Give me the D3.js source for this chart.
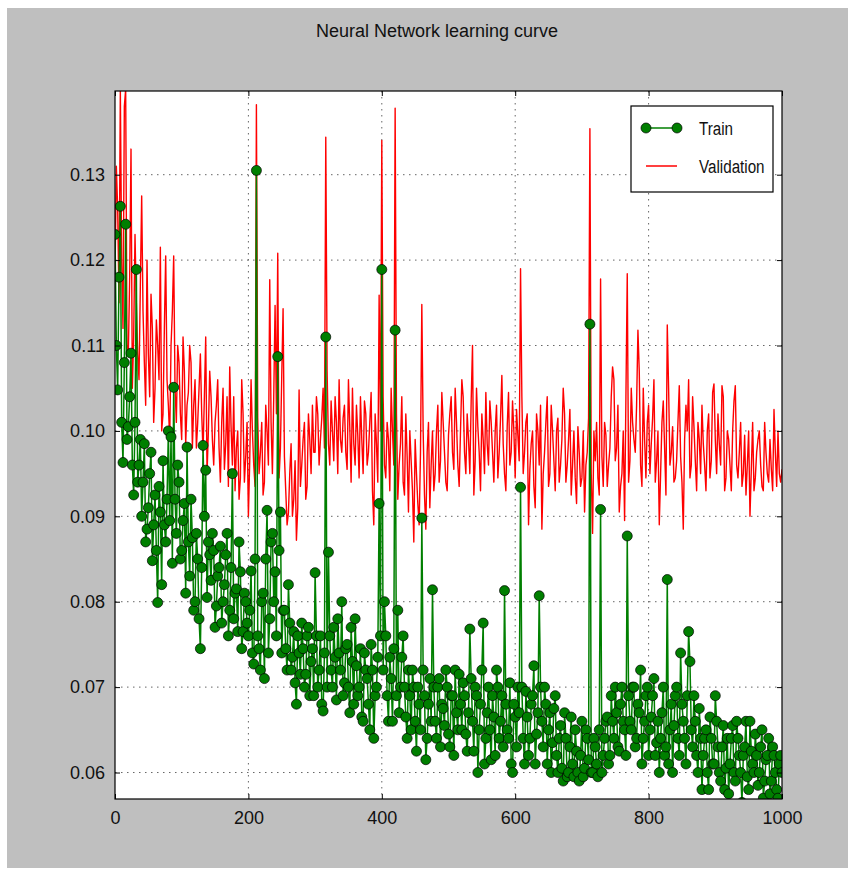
<!DOCTYPE html>
<html>
<head>
<meta charset="utf-8" />
<title>Neural Network learning curve</title>
<script src="https://d3js.org/d3.v7.min.js"></script>
<style>
  body { margin: 0; background: #fff; }
  text { font-family: "Liberation Sans", Arial, sans-serif; fill: #111; }
</style>
</head>
<body>
<svg id="viz"></svg>
<script>
// loss per recorded epoch (one value every 2 epochs, 0..1000)
var epochStep = 2;

var trainLoss = [
  0.1230, 0.1100, 0.1048, 0.1180, 0.1263, 0.1010, 0.0963, 0.1080, 0.1242, 0.0990, 0.1005, 0.1040, 0.1091, 0.0960, 0.0925, 0.1010, 0.1189, 0.0940, 0.0960, 0.0990,
  0.0900, 0.0940, 0.0985, 0.0870, 0.0885, 0.0910, 0.0950, 0.0975, 0.0848, 0.0890, 0.0925, 0.0860, 0.0799, 0.0935, 0.0905, 0.0820, 0.0965, 0.0890, 0.0870, 0.0920,
  0.1000, 0.0895, 0.0993, 0.0845, 0.1051, 0.0920, 0.0880, 0.0960, 0.0940, 0.0850, 0.0860, 0.0895, 0.0915, 0.0810, 0.0981, 0.0870, 0.0830, 0.0920, 0.0875, 0.0790,
  0.0800, 0.0880, 0.0850, 0.0780, 0.0745, 0.0840, 0.0983, 0.0900, 0.0954, 0.0805, 0.0870, 0.0855, 0.0825, 0.0880, 0.0860, 0.0770, 0.0795, 0.0830, 0.0840, 0.0865,
  0.0775, 0.0800, 0.0820, 0.0855, 0.0880, 0.0760, 0.0790, 0.0840, 0.0950, 0.0780, 0.0810, 0.0815, 0.0765, 0.0870, 0.0835, 0.0745, 0.0765, 0.0810, 0.0800, 0.0775,
  0.0760, 0.0790, 0.0836, 0.0740, 0.0727, 0.0850, 0.1305, 0.0760, 0.0745, 0.0720, 0.0800, 0.0810, 0.0710, 0.0850, 0.0907, 0.0740, 0.0780, 0.0870, 0.0880, 0.0800,
  0.0835, 0.0760, 0.1087, 0.0860, 0.0905, 0.0740, 0.0790, 0.0790, 0.0745, 0.0720, 0.0820, 0.0775, 0.0720, 0.0735, 0.0765, 0.0705, 0.0680, 0.0760, 0.0740, 0.0715,
  0.0775, 0.0745, 0.0700, 0.0715, 0.0760, 0.0770, 0.0690, 0.0730, 0.0745, 0.0690, 0.0834, 0.0760, 0.0700, 0.0720, 0.0760, 0.0680, 0.0672, 0.0740, 0.1110, 0.0700,
  0.0858, 0.0760, 0.0720, 0.0700, 0.0770, 0.0735, 0.0685, 0.0780, 0.0740, 0.0720, 0.0800, 0.0690, 0.0705, 0.0745, 0.0750, 0.0700, 0.0670, 0.0770, 0.0730, 0.0680,
  0.0780, 0.0725, 0.0690, 0.0700, 0.0745, 0.0665, 0.0660, 0.0740, 0.0720, 0.0710, 0.0680, 0.0650, 0.0750, 0.0720, 0.0640, 0.0690, 0.0700, 0.0735, 0.0915, 0.0760,
  0.1189, 0.0720, 0.0800, 0.0760, 0.0690, 0.0660, 0.0735, 0.0710, 0.0660, 0.0745, 0.1118, 0.0690, 0.0790, 0.0670, 0.0700, 0.0735, 0.0760, 0.0700, 0.0665, 0.0640,
  0.0720, 0.0690, 0.0650, 0.0720, 0.0700, 0.0660, 0.0625, 0.0700, 0.0680, 0.0650, 0.0898, 0.0720, 0.0690, 0.0615, 0.0640, 0.0680, 0.0710, 0.0660, 0.0814, 0.0700,
  0.0660, 0.0640, 0.0700, 0.0710, 0.0630, 0.0680, 0.0675, 0.0655, 0.0720, 0.0700, 0.0645, 0.0630, 0.0690, 0.0690, 0.0620, 0.0720, 0.0670, 0.0650, 0.0715, 0.0680,
  0.0650, 0.0705, 0.0690, 0.0645, 0.0625, 0.0670, 0.0768, 0.0710, 0.0660, 0.0625, 0.0700, 0.0690, 0.0600, 0.0650, 0.0680, 0.0720, 0.0775, 0.0610, 0.0640, 0.0670,
  0.0700, 0.0650, 0.0615, 0.0690, 0.0665, 0.0620, 0.0720, 0.0700, 0.0640, 0.0660, 0.0690, 0.0630, 0.0813, 0.0680, 0.0650, 0.0640, 0.0705, 0.0610, 0.0600, 0.0680,
  0.0665, 0.0630, 0.0700, 0.0670, 0.0934, 0.0700, 0.0640, 0.0610, 0.0695, 0.0665, 0.0620, 0.0640, 0.0680, 0.0690, 0.0725, 0.0610, 0.0645, 0.0670, 0.0807, 0.0700,
  0.0660, 0.0630, 0.0700, 0.0680, 0.0610, 0.0650, 0.0670, 0.0600, 0.0635, 0.0675, 0.0690, 0.0620, 0.0600, 0.0640, 0.0655, 0.0605, 0.0590, 0.0670, 0.0640, 0.0595,
  0.0600, 0.0630, 0.0665, 0.0610, 0.0595, 0.0650, 0.0625, 0.0600, 0.0590, 0.0620, 0.0660, 0.0595, 0.0605, 0.0650, 0.0640, 0.0615, 0.1125, 0.0600, 0.0600, 0.0640,
  0.0630, 0.0610, 0.0595, 0.0650, 0.0908, 0.0600, 0.0620, 0.0640, 0.0660, 0.0665, 0.0610, 0.0620, 0.0690, 0.0660, 0.0640, 0.0700, 0.0670, 0.0630, 0.0625, 0.0680,
  0.0700, 0.0660, 0.0650, 0.0620, 0.0877, 0.0690, 0.0660, 0.0650, 0.0700, 0.0700, 0.0630, 0.0640, 0.0680, 0.0670, 0.0720, 0.0610, 0.0640, 0.0660, 0.0690, 0.0700,
  0.0620, 0.0650, 0.0665, 0.0690, 0.0710, 0.0620, 0.0635, 0.0660, 0.0600, 0.0640, 0.0670, 0.0700, 0.0620, 0.0630, 0.0826, 0.0610, 0.0650, 0.0680, 0.0600, 0.0655,
  0.0690, 0.0700, 0.0640, 0.0620, 0.0740, 0.0680, 0.0660, 0.0640, 0.0610, 0.0690, 0.0765, 0.0730, 0.0650, 0.0630, 0.0690, 0.0660, 0.0620, 0.0600, 0.0675, 0.0640,
  0.0580, 0.0620, 0.0640, 0.0650, 0.0600, 0.0580, 0.0665, 0.0640, 0.0610, 0.0610, 0.0690, 0.0660, 0.0630, 0.0600, 0.0590, 0.0630, 0.0655, 0.0580, 0.0605, 0.0640,
  0.0575, 0.0610, 0.0640, 0.0655, 0.0600, 0.0590, 0.0660, 0.0640, 0.0620, 0.0600, 0.0565, 0.0620, 0.0630, 0.0660, 0.0595, 0.0580, 0.0660, 0.0625, 0.0610, 0.0600,
  0.0645, 0.0620, 0.0585, 0.0600, 0.0630, 0.0650, 0.0570, 0.0590, 0.0615, 0.0620, 0.0640, 0.0575, 0.0590, 0.0630, 0.0620, 0.0600, 0.0580, 0.0570, 0.0610, 0.0620,
  0.0600
];

var validLoss = [
  0.1180, 0.1310, 0.1260, 0.1150, 0.1400, 0.1200, 0.1120, 0.1380, 0.1400, 0.1100, 0.1090, 0.1180, 0.1330, 0.1050, 0.1110, 0.1230, 0.1150, 0.1090, 0.1060, 0.1170,
  0.1275, 0.1140, 0.1080, 0.1030, 0.1200, 0.1090, 0.1040, 0.1160, 0.1120, 0.1010, 0.1050, 0.1130, 0.1100, 0.1060, 0.1215, 0.1000, 0.1020, 0.1120, 0.1205, 0.1060,
  0.1030, 0.0990, 0.1100, 0.1140, 0.1205, 0.1050, 0.1010, 0.1100, 0.1080, 0.1020, 0.0990, 0.1110, 0.1070, 0.0985, 0.1030, 0.1045, 0.1100, 0.1080, 0.0980, 0.1030,
  0.1060, 0.0980, 0.1010, 0.1050, 0.1090, 0.1020, 0.0975, 0.1040, 0.1110, 0.0950, 0.1000, 0.1070, 0.1040, 0.0990, 0.0960, 0.1010, 0.1030, 0.1060, 0.0980, 0.0940,
  0.1010, 0.1050, 0.0955, 0.0985, 0.1040, 0.0935, 0.1075, 0.1005, 0.0960, 0.1040, 0.0930, 0.0980, 0.1000, 0.0920, 0.0945, 0.1060, 0.1020, 0.0940, 0.0970, 0.1010,
  0.0900, 0.0965, 0.1060, 0.1000, 0.0960, 0.0935, 0.1382, 0.1015, 0.0950, 0.0975, 0.1010, 0.0925, 0.0940, 0.1030, 0.1000, 0.0960, 0.1177, 0.1010, 0.0950, 0.1040,
  0.1147, 0.1020, 0.1208, 0.0945, 0.0980, 0.1065, 0.1143, 0.0970, 0.0930, 0.0890, 0.0904, 0.0950, 0.0985, 0.0900, 0.0920, 0.0965, 0.0872, 0.0910, 0.1048, 0.0935,
  0.0960, 0.0990, 0.1010, 0.0920, 0.0935, 0.1020, 0.0990, 0.0950, 0.1030, 0.0975, 0.0975, 0.1040, 0.1020, 0.0960, 0.0990, 0.1015, 0.1050, 0.0980, 0.1344, 0.1070,
  0.0985, 0.0960, 0.1035, 0.1000, 0.0965, 0.1040, 0.1010, 0.0950, 0.1060, 0.0990, 0.0975, 0.1015, 0.1030, 0.0975, 0.0955, 0.1060, 0.1005, 0.0940, 0.1050, 0.0985,
  0.0960, 0.1030, 0.0995, 0.0945, 0.1040, 0.0990, 0.0950, 0.1035, 0.1020, 0.0960, 0.0975, 0.1010, 0.1045, 0.0930, 0.0890, 0.1020, 0.0985, 0.0940, 0.1159, 0.1000,
  0.1340, 0.1040, 0.0960, 0.0945, 0.1010, 0.0990, 0.0930, 0.1050, 0.1000, 0.0960, 0.1378, 0.1020, 0.0920, 0.0960, 0.0985, 0.1040, 0.0940, 0.0925, 0.1020, 0.0970,
  0.0905, 0.1000, 0.0965, 0.0930, 0.0870, 0.0990, 0.0950, 0.0915, 0.0890, 0.0975, 0.1148, 0.1000, 0.0925, 0.0885, 0.0975, 0.1010, 0.0910, 0.0960, 0.1000, 0.0930,
  0.0950, 0.1000, 0.1030, 0.0940, 0.0965, 0.1045, 0.1010, 0.0975, 0.0940, 0.0930, 0.0995, 0.1020, 0.1040, 0.0975, 0.0955, 0.1050, 0.1010, 0.0960, 0.0935, 0.1000,
  0.1060, 0.1040, 0.0975, 0.0950, 0.1020, 0.0990, 0.0950, 0.1035, 0.1100, 0.0925, 0.0965, 0.1050, 0.1005, 0.0975, 0.0930, 0.1020, 0.0990, 0.0950, 0.1045, 0.0985,
  0.0960, 0.1035, 0.1010, 0.0975, 0.0940, 0.1000, 0.1030, 0.0945, 0.0975, 0.1015, 0.1065, 0.0985, 0.0950, 0.0930, 0.1005, 0.1045, 0.0960, 0.0975, 0.1035, 0.1000,
  0.0945, 0.1025, 0.0995, 0.0965, 0.1190, 0.1040, 0.0950, 0.0975, 0.1010, 0.1020, 0.0890, 0.0955, 0.0985, 0.1000, 0.0935, 0.0910, 0.1020, 0.1000, 0.0960, 0.1030,
  0.0885, 0.0950, 0.0975, 0.1010, 0.1040, 0.0935, 0.0950, 0.1030, 0.1000, 0.0965, 0.0930, 0.1000, 0.1015, 0.0940, 0.0960, 0.0990, 0.1050, 0.1020, 0.0940, 0.0960,
  0.0990, 0.1025, 0.0925, 0.0960, 0.1000, 0.0945, 0.0915, 0.1005, 0.0975, 0.0935, 0.0945, 0.1000, 0.0905, 0.0960, 0.0975, 0.1015, 0.1354, 0.0950, 0.0880, 0.1000,
  0.0965, 0.1010, 0.0945, 0.0925, 0.1178, 0.0970, 0.0935, 0.1010, 0.0995, 0.0935, 0.0960, 0.0980, 0.1040, 0.1075, 0.1060, 0.0965, 0.0980, 0.1030, 0.0905, 0.0935,
  0.0950, 0.1000, 0.0895, 0.1040, 0.1184, 0.0940, 0.0965, 0.1050, 0.1010, 0.0990, 0.0975, 0.1030, 0.1118, 0.1070, 0.0960, 0.0935, 0.1050, 0.0990, 0.0945, 0.1010,
  0.1030, 0.0950, 0.0985, 0.1015, 0.1060, 0.0940, 0.0965, 0.1000, 0.0890, 0.0950, 0.1010, 0.1035, 0.0980, 0.0925, 0.1124, 0.1050, 0.0960, 0.0975, 0.1005, 0.0940,
  0.0945, 0.0965, 0.1010, 0.1053, 0.0970, 0.0940, 0.0885, 0.0990, 0.1030, 0.1000, 0.1060, 0.0945, 0.0960, 0.1040, 0.1005, 0.0965, 0.0930, 0.1010, 0.0990, 0.0950,
  0.1030, 0.0985, 0.0960, 0.0930, 0.1000, 0.1020, 0.0945, 0.0965, 0.1045, 0.1055, 0.0990, 0.0950, 0.1020, 0.0985, 0.0960, 0.1053, 0.1040, 0.0930, 0.0945, 0.1000,
  0.0990, 0.0960, 0.0930, 0.1000, 0.1035, 0.1053, 0.0960, 0.0945, 0.0975, 0.1010, 0.0935, 0.0950, 0.0995, 0.0925, 0.0960, 0.1000, 0.0900, 0.0955, 0.1010, 0.0930,
  0.0945, 0.0975, 0.0990, 0.1000, 0.0960, 0.0935, 0.0930, 0.1010, 0.0975, 0.0950, 0.0940, 0.0990, 0.0955, 0.0930, 0.1025, 0.0975, 0.0935, 0.1000, 0.0950, 0.0940,
  0.0955
];

var xTicks = [0, 200, 400, 600, 800, 1000];
var yTicks = [0.06, 0.07, 0.08, 0.09, 0.10, 0.11, 0.12, 0.13];
var seriesNames = ["Train", "Validation"];
var seriesColors = ["#007f00", "#ff0000"];

var width = 854, height = 873;
var svg = d3.select("#viz").attr("width", width).attr("height", height);

// figure background
svg.append("rect")
  .attr("x", 7).attr("y", 8)
  .attr("width", 841).attr("height", 860)
  .attr("fill", "#bfbfbf");

var plot = { left: 115, top: 91, right: 782, bottom: 799 };

var x = d3.scaleLinear().domain([0, 1000]).range([plot.left, plot.right]);
var y = d3.scaleLinear().domain([0.0569, 0.1398]).range([plot.bottom, plot.top]);

svg.append("rect")
  .attr("x", plot.left).attr("y", plot.top)
  .attr("width", plot.right - plot.left).attr("height", plot.bottom - plot.top)
  .attr("fill", "#fff");

svg.append("clipPath").attr("id", "clip")
  .append("rect")
  .attr("x", plot.left).attr("y", plot.top)
  .attr("width", plot.right - plot.left).attr("height", plot.bottom - plot.top);

// dotted grid
var grid = svg.append("g").attr("stroke", "#666").attr("stroke-width", 1).attr("stroke-dasharray", "1.5,4.5");
grid.selectAll(".gx").data(xTicks.slice(1, -1)).enter().append("line")
  .attr("x1", d => x(d)).attr("x2", d => x(d))
  .attr("y1", plot.top).attr("y2", plot.bottom);
grid.selectAll(".gy").data(yTicks).enter().append("line")
  .attr("x1", plot.left).attr("x2", plot.right)
  .attr("y1", d => y(d)).attr("y2", d => y(d));

var trainData = trainLoss.map((v, i) => ({ epoch: i * epochStep, loss: v }));
var validData = validLoss.map((v, i) => ({ epoch: i * epochStep, loss: v }));

var line = d3.line().x(d => x(d.epoch)).y(d => y(d.loss));

var lines = svg.append("g").attr("clip-path", "url(#clip)");

lines.append("path")
  .datum(validData)
  .attr("d", line)
  .attr("fill", "none")
  .attr("stroke", seriesColors[1])
  .attr("stroke-width", 1.4)
  .attr("stroke-linejoin", "round");

lines.append("path")
  .datum(trainData)
  .attr("d", line)
  .attr("fill", "none")
  .attr("stroke", seriesColors[0])
  .attr("stroke-width", 1.5)
  .attr("stroke-linejoin", "round");

lines.selectAll("circle")
  .data(trainData)
  .enter().append("circle")
  .attr("cx", d => x(d.epoch))
  .attr("cy", d => y(d.loss))
  .attr("r", 5)
  .attr("fill", seriesColors[0])
  .attr("stroke", "#000")
  .attr("stroke-width", 0.7);

// axes, ticks pointing inward on every side
var fmtY = d3.format(".2f");
svg.append("g").attr("transform", "translate(0," + plot.bottom + ")")
  .call(d3.axisBottom(x).tickValues(xTicks).tickSizeInner(-5).tickSizeOuter(0).tickPadding(12).tickFormat(d3.format("d")))
  .call(g => g.select(".domain").remove());
svg.append("g").attr("transform", "translate(0," + plot.top + ")")
  .call(d3.axisTop(x).tickValues(xTicks).tickSizeInner(-5).tickSizeOuter(0).tickFormat(""))
  .call(g => g.select(".domain").remove());
svg.append("g").attr("transform", "translate(" + plot.left + ",0)")
  .call(d3.axisLeft(y).tickValues(yTicks).tickSizeInner(-5).tickSizeOuter(0).tickPadding(10).tickFormat(fmtY))
  .call(g => g.select(".domain").remove());
svg.append("g").attr("transform", "translate(" + plot.right + ",0)")
  .call(d3.axisRight(y).tickValues(yTicks).tickSizeInner(-5).tickSizeOuter(0).tickFormat(""))
  .call(g => g.select(".domain").remove());

svg.selectAll(".tick text")
  .attr("font-family", "'Liberation Sans', Arial, sans-serif")
  .attr("font-size", 18)
  .attr("fill", "#111");

// frame
svg.append("rect")
  .attr("x", plot.left).attr("y", plot.top)
  .attr("width", plot.right - plot.left).attr("height", plot.bottom - plot.top)
  .attr("fill", "none").attr("stroke", "#000").attr("stroke-width", 1.2);

// title
svg.append("text")
  .attr("x", 437).attr("y", 37)
  .attr("text-anchor", "middle")
  .attr("font-size", 18)
  .text("Neural Network learning curve");

// legend
var legend = svg.append("g").attr("transform", "translate(631,106)");
legend.append("rect")
  .attr("width", 142).attr("height", 86)
  .attr("fill", "#fff").attr("stroke", "#000").attr("stroke-width", 1.2);

var legItems = legend.selectAll(".item").data(seriesNames).enter().append("g")
  .attr("transform", (d, i) => "translate(0," + (22 + i * 38) + ")");
legItems.append("line")
  .attr("x1", 15).attr("x2", 46)
  .attr("stroke", (d, i) => seriesColors[i])
  .attr("stroke-width", 1.5);
legItems.filter((d, i) => i === 0).selectAll("circle")
  .data([15, 46]).enter().append("circle")
  .attr("cx", d => d).attr("r", 5)
  .attr("fill", seriesColors[0]).attr("stroke", "#000").attr("stroke-width", 0.7);
legItems.append("text")
  .attr("transform", "translate(68,7) scale(0.8,1)")
  .attr("font-size", 19)
  .text(d => d);
</script>
</body>
</html>
